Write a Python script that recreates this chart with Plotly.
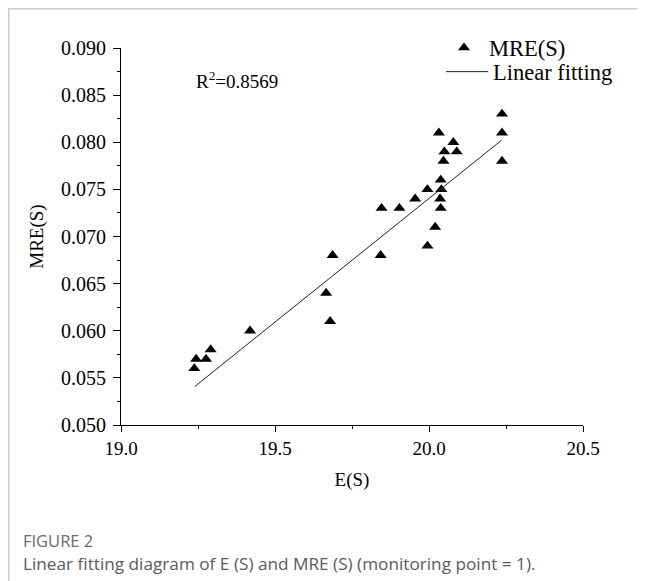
import plotly.graph_objects as go

# ---- data ----
e_s = [19.238, 19.244, 19.276, 19.291, 19.419, 19.666, 19.679, 19.687,
       19.843, 19.846, 19.904, 19.955, 19.995, 19.995, 20.02, 20.038,
       20.036, 20.04, 20.038, 20.047, 20.05, 20.032, 20.079, 20.09,
       20.237, 20.237, 20.237]
mre_s = [0.056, 0.057, 0.057, 0.058, 0.060, 0.064, 0.061, 0.068,
         0.068, 0.073, 0.073, 0.074, 0.075, 0.069, 0.071, 0.073,
         0.074, 0.075, 0.076, 0.078, 0.079, 0.081, 0.080, 0.079,
         0.083, 0.081, 0.078]
fit_x = [19.24, 20.235]
fit_y = [0.0541, 0.0802]
r2_text = "R<sup>2</sup>=0.8569"
x_ticks = [19.0, 19.5, 20.0, 20.5]
y_ticks = [0.050, 0.055, 0.060, 0.065, 0.070, 0.075, 0.080, 0.085, 0.090]

# page body has an 8px margin; work in screen pixels and convert
OFF = 8
W, H = 646 - OFF, 581 - OFF
PL, PR, PT, PB = 121 - OFF, 583 - OFF, 48 - OFF, 425 - OFF   # plot box in figure px
ML, MR, MT, MB = PL, W - PR, PT, H - PB
PW, PH = PR - PL, PB - PT

def px_x(s):
    return (s - OFF - ML) / PW

def px_y(s):
    return (PB - (s - OFF)) / PH

serif = "Liberation Serif"

fig = go.Figure()
fig.add_trace(go.Scatter(
    x=e_s, y=mre_s, mode="markers", name="MRE(S)", legend="legend",
    marker=dict(symbol="triangle-up", size=10.5, color="black", line=dict(width=0)),
))
fig.add_trace(go.Scatter(
    x=fit_x, y=fit_y, mode="lines", name="Linear fitting", legend="legend2",
    line=dict(color="#222222", width=1),
))

leg_font = dict(family=serif, size=22.5, color="black")

fig.update_layout(
    width=W, height=H,
    margin=dict(l=ML, r=MR, t=MT, b=MB),
    paper_bgcolor="white", plot_bgcolor="white",
    font=dict(family=serif, color="black", size=19),
    showlegend=True,
    legend=dict(x=px_x(439), y=px_y(48), xanchor="left", yanchor="middle",
                font=leg_font, bgcolor="rgba(0,0,0,0)", itemwidth=40),
    legend2=dict(x=px_x(441), y=px_y(72), xanchor="left", yanchor="middle",
                 font=leg_font, bgcolor="rgba(0,0,0,0)", itemwidth=42),
    xaxis=dict(range=[19.0, 20.5], tickvals=x_ticks, tickformat=".1f",
               showline=True, linecolor="black", linewidth=1,
               ticks="outside", ticklen=6, tickcolor="black",
               minor=dict(dtick=0.25, ticks="outside", ticklen=3, tickcolor="black"),
               showgrid=False, zeroline=False,
               tickfont=dict(family=serif, size=19),
               title=dict(text="E(S)", font=dict(family=serif, size=19), standoff=14)),
    yaxis=dict(range=[0.050, 0.090], tickvals=y_ticks, tickformat=".3f",
               showline=True, linecolor="black", linewidth=1,
               ticks="outside", ticklen=7, tickcolor="black", ticklabelstandoff=3,
               minor=dict(dtick=0.0025, ticks="outside", ticklen=3.5, tickcolor="black"),
               showgrid=False, zeroline=False,
               tickfont=dict(family=serif, size=20),
               title=dict(text="MRE(S)", font=dict(family=serif, size=19), standoff=12)),
    annotations=[
        dict(text=r2_text, xref="paper", yref="paper", x=px_x(194), y=px_y(80),
             xanchor="left", yanchor="middle", showarrow=False,
             font=dict(family=serif, size=19, color="black")),
        dict(text="FIGURE 2", xref="paper", yref="paper", x=px_x(21), y=px_y(540),
             xanchor="left", yanchor="middle", showarrow=False,
             font=dict(family="Open Sans", size=16.5, color="#6b6b6b")),
        dict(text="Linear fitting diagram of E (S) and MRE (S) (monitoring point = 1).",
             xref="paper", yref="paper", x=px_x(21), y=px_y(563),
             xanchor="left", yanchor="middle", showarrow=False,
             font=dict(family="Open Sans", size=17.2, color="#5a5a5a")),
    ],
    shapes=[
        dict(type="line", xref="paper", yref="paper",
             x0=px_x(OFF), x1=px_x(646 + 10), y0=px_y(OFF + 0.8), y1=px_y(OFF + 0.8),
             line=dict(color="#cccccc", width=1.5)),
        dict(type="line", xref="paper", yref="paper",
             x0=px_x(OFF + 0.8), x1=px_x(OFF + 0.8), y0=px_y(OFF), y1=px_y(581 + 10),
             line=dict(color="#cccccc", width=1.5)),
    ],
)

fig.write_html("out.html")
